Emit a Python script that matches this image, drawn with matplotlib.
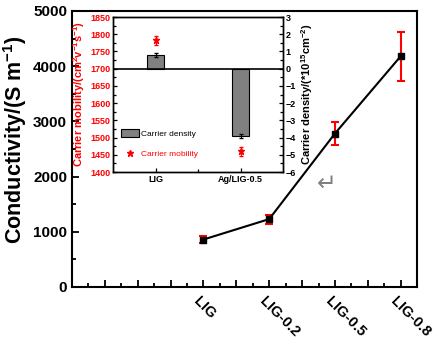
import numpy as np
import matplotlib
matplotlib.use('Agg')
import matplotlib.pyplot as plt
from matplotlib.ticker import MultipleLocator, FixedLocator
from matplotlib.patches import Patch
from matplotlib.lines import Line2D

plt.rcParams['font.family'] = ['Liberation Sans', 'DejaVu Sans']
plt.rcParams['mathtext.fontset'] = 'custom'
plt.rcParams['mathtext.rm'] = 'Liberation Sans'
plt.rcParams['mathtext.bf'] = 'Liberation Sans:bold'

# проводимость образцов
samples = ['LIG', 'LIG-0.2', 'LIG-0.5', 'LIG-0.8']
conductivity = [860, 1230, 2780, 4180]
conductivity_err = [60, 80, 200, 440]

# данные вставки
inset_samples = ['LIG', 'Ag/LIG-0.5']
carrier_density = [0.78, -3.9]
carrier_density_err = [0.12, 0.12]
carrier_mobility = [1782, 1460]
carrier_mobility_err = [12, 14]

fig = plt.figure(figsize=(4.33, 3.43), dpi=100)
ax = fig.add_axes([0.1663, 0.1633, 0.797, 0.8047])

x = np.arange(1, len(samples) + 1)
ax.plot(x, conductivity, color='black', lw=1.5, zorder=3)
ax.errorbar(x, conductivity, yerr=conductivity_err, fmt='none', ecolor='red',
            elinewidth=1.5, capsize=3, capthick=1.5, zorder=2)
ax.plot(x, conductivity, 's', color='black', ms=4, zorder=4)

ax.set_xlim(-1, 4.25)
ax.set_ylim(0, 5000)
ax.xaxis.set_major_locator(MultipleLocator(0.5))
ax.xaxis.set_minor_locator(MultipleLocator(0.25))
ax.set_xticklabels([])
ax.yaxis.set_major_locator(MultipleLocator(1000))
ax.yaxis.set_minor_locator(MultipleLocator(500))
ax.tick_params(which='both', direction='in', width=1.3)
ax.tick_params(which='major', length=5, labelsize=11)
ax.tick_params(which='minor', length=3)
for lbl in ax.get_yticklabels():
    lbl.set_fontweight('bold')
for s in ax.spines.values():
    s.set_linewidth(1.5)

# подписи образцов по диагонали
for xi, name in zip(x, samples):
    ax.text(xi - 0.04, -130, name, rotation=-45, ha='left', va='top',
            rotation_mode='anchor', fontsize=10.5, fontweight='bold')

ax.set_ylabel('Conductivity/(S m$^{\\mathbf{-1}}$)', fontsize=15.5,
              fontweight='bold')
ax.yaxis.set_label_coords(-0.125, 0.533)

ax.text(2.88, 1860, '\u21b5', fontsize=17, color='gray',
        family='DejaVu Sans', ha='center', va='center')

# вставка: плотность и подвижность носителей
ins = fig.add_axes([0.261, 0.4985, 0.3926, 0.4519])
mob = ins.twinx()

xi = np.arange(1, len(inset_samples) + 1)
ins.bar(xi, carrier_density, width=0.2, color='#808080', edgecolor='black',
        lw=0.8, zorder=2)
ins.errorbar(xi, carrier_density, yerr=carrier_density_err, fmt='none',
             ecolor='black', elinewidth=0.7, capsize=1.5, zorder=3)
ins.axhline(0, color='black', lw=1.2, zorder=3)
ins.set_xlim(0.5, 2.5)
ins.set_ylim(-6, 3)
ins.yaxis.tick_right()
ins.yaxis.set_label_position('right')
ins.yaxis.set_major_locator(MultipleLocator(1))
ins.yaxis.set_minor_locator(MultipleLocator(0.5))
ins.xaxis.set_major_locator(FixedLocator(xi))
ins.xaxis.set_minor_locator(FixedLocator([1.5]))
ins.set_xticklabels(inset_samples, fontsize=6.5, fontweight='bold')
ins.tick_params(which='both', direction='in', width=0.9, labelsize=6.5, pad=2)
ins.tick_params(which='major', length=3)
ins.tick_params(which='minor', length=2)
for lbl in ins.get_yticklabels():
    lbl.set_fontweight('bold')
ins.set_ylabel('Carrier density/(*10$^{\\mathbf{15}}$cm$^{\\mathbf{-2}}$)',
               fontsize=8, fontweight='bold', labelpad=2)

# подвижность на левой оси вставки
mob.yaxis.tick_left()
mob.yaxis.set_label_position('left')
mob.errorbar(xi, carrier_mobility, yerr=carrier_mobility_err, fmt='*',
             color='red', ms=4.5, elinewidth=0.7, capsize=1.5)
mob.set_ylim(1400, 1850)
mob.yaxis.set_major_locator(MultipleLocator(50))
mob.yaxis.set_minor_locator(MultipleLocator(25))
mob.tick_params(which='both', direction='in', width=0.9, labelsize=6.5,
                labelcolor='red', pad=2)
mob.tick_params(which='major', length=3)
mob.tick_params(which='minor', length=2)
for lbl in mob.get_yticklabels():
    lbl.set_fontweight('bold')
mob.set_ylabel('Carrier mobility/(cm$^{\\mathbf{2}}$v$^{\\mathbf{-1}}$s$^{\\mathbf{-1}}$)',
               fontsize=8, fontweight='bold', color='red', labelpad=2)
for s in list(ins.spines.values()) + list(mob.spines.values()):
    s.set_linewidth(1.0)

handles = [Patch(facecolor='#808080', edgecolor='black', lw=0.8),
           Line2D([], [], marker='*', color='red', ls='none', ms=4.5)]
mob.legend(handles, ['Carrier density', 'Carrier mobility'], loc='lower left',
           bbox_to_anchor=(0.0, 0.04), frameon=False, fontsize=6,
           labelcolor=['black', 'red'], handlelength=2.2, handleheight=1.1,
           labelspacing=1.4, handletextpad=0.3)

fig.savefig('out.png', dpi=100)
